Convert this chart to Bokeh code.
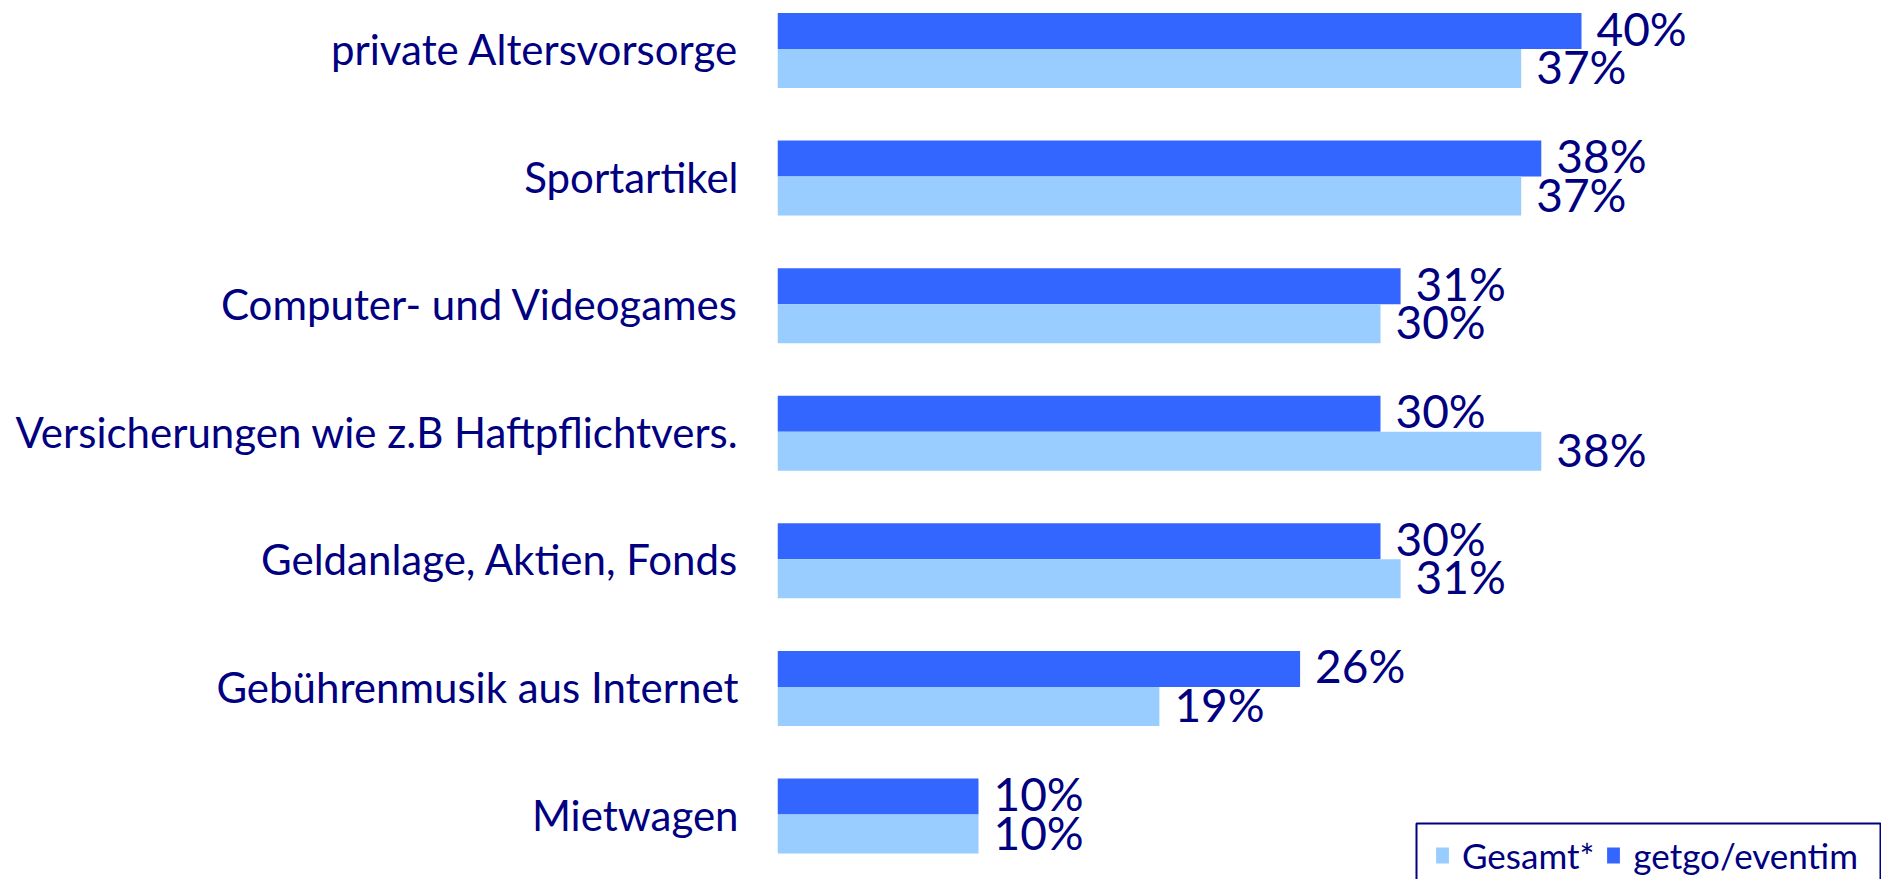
from bokeh.plotting import figure
from bokeh.models import Range1d, FixedTicker, Legend, LegendItem, ColumnDataSource, BoxAnnotation
from bokeh.core.properties import value
from bokeh.embed import file_html
from bokeh.resources import INLINE

categories = ["private Altersvorsorge", "Sportartikel", "Computer- und Videogames",
              "Versicherungen wie z.B Haftpflichtvers.", "Geldanlage, Aktien, Fonds",
              "Gebührenmusik aus Internet", "Mietwagen"]
getgo = [40, 38, 31, 30, 30, 26, 10]
gesamt = [37, 37, 30, 38, 31, 19, 10]
series_names = ["Gesamt*", "getgo/eventim"]

DARK = "#3366FF"
LIGHT = "#99CCFF"
NAVY = "#000080"
FONT = "Lato"

n = len(categories)
pos = [n - 1 - i for i in range(n)]
PX = (814 - 48.5) / 6
dark_h = 36 / PX
light_h = 39 / PX

src = ColumnDataSource(dict(
    pos=pos,
    getgo=getgo,
    gesamt=gesamt,
    dark_top=[p_ + dark_h for p_ in pos],
    light_bot=[p_ - light_h for p_ in pos],
    dark_mid=[p_ + dark_h / 2 for p_ in pos],
    light_mid=[p_ - light_h / 2 for p_ in pos],
    getgo_lbl=[f"{v}%" for v in getgo],
    gesamt_lbl=[f"{v}%" for v in gesamt],
))

W, H = 1881, 879
LEFT = 777
p = figure(width=W, height=H, output_backend="svg", toolbar_location=None,
           x_range=Range1d(0, (W - LEFT) / 20.1),
           y_range=Range1d(-(H - 814) / PX, (n - 1) + 48.5 / PX),
           min_border_left=LEFT, min_border_right=0, min_border_top=0, min_border_bottom=0)
p.outline_line_color = None
p.xgrid.visible = False
p.ygrid.visible = False
p.xaxis.visible = False

yax = p.yaxis[0]
yax.ticker = FixedTicker(ticks=pos)
yax.major_label_overrides = {p_: c for p_, c in zip(pos, categories)}
yax.axis_line_color = None
yax.major_tick_line_color = None
yax.minor_tick_line_color = None
yax.major_tick_out = 0
yax.major_tick_in = 0
yax.major_label_standoff = 39
yax.major_label_text_font = FONT
yax.major_label_text_font_size = "42px"
yax.major_label_text_color = NAVY

r_dark = p.quad(left=0, right="getgo", bottom="pos", top="dark_top", source=src,
                fill_color=DARK, line_color=None)
r_light = p.quad(left=0, right="gesamt", bottom="light_bot", top="pos", source=src,
                 fill_color=LIGHT, line_color=None)

p.text(x="getgo", y="dark_mid", text="getgo_lbl", source=src, x_offset=15, y_offset=-3,
       text_font=value(FONT), text_font_size="46px", text_color=NAVY,
       text_baseline="middle", text_align="left")
p.text(x="gesamt", y="light_mid", text="gesamt_lbl", source=src, x_offset=15, y_offset=-2,
       text_font=value(FONT), text_font_size="46px", text_color=NAVY,
       text_baseline="middle", text_align="left")

frame_box = BoxAnnotation(left=1416, right=1880, top=823, bottom=940,
                          left_units="canvas", right_units="canvas",
                          top_units="canvas", bottom_units="canvas",
                          fill_alpha=0, line_color=NAVY, line_alpha=1, line_width=2)
p.add_layout(frame_box)

legend = Legend(items=[LegendItem(label=series_names[0], renderers=[r_light]),
                       LegendItem(label=series_names[1], renderers=[r_dark])],
                orientation="horizontal", location=(1441 - LEFT - 7, 3))
legend.label_text_font = FONT
legend.label_text_font_size = "35px"
legend.label_text_color = NAVY
legend.glyph_width = 16
legend.glyph_height = 20
legend.label_standoff = 12
legend.spacing = 11
legend.padding = 25
legend.margin = 0
legend.border_line_color = None
legend.background_fill_alpha = 0
p.add_layout(legend, "center")

open("out.html", "w").write(file_html(p, INLINE))
